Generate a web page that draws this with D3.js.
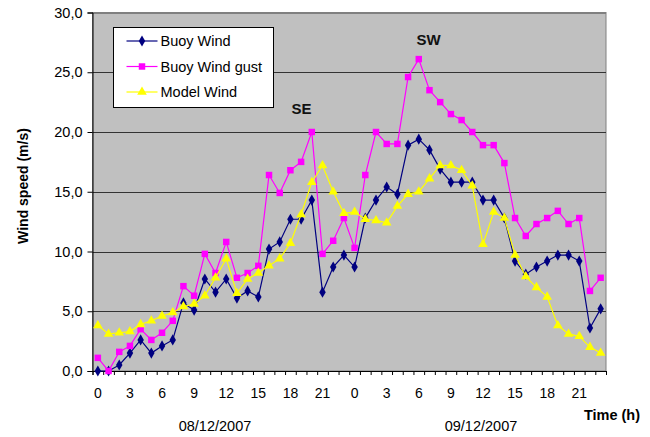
<!DOCTYPE html>
<html>
<head>
<meta charset="utf-8">
<script src="https://cdn.jsdelivr.net/npm/d3@7"></script>
<style>
  body { margin: 0; background: #fff; }
  svg { font-family: Arial, "Liberation Sans", sans-serif; }
</style>
</head>
<body>
<div id="chart"></div>
<script>
// data (two days, hourly)
var hours = [0,1,2,3,4,5,6,7,8,9,10,11,12,13,14,15,16,17,18,19,20,21,22,23,
             0,1,2,3,4,5,6,7,8,9,10,11,12,13,14,15,16,17,18,19,20,21,22,23];
var days = ["08/12/2007", "09/12/2007"];
var seriesNames = ["Buoy Wind", "Buoy Wind gust", "Model Wind"];

var buoyWind = [0.0, 0.0, 0.5, 1.5, 2.6, 1.5, 2.1, 2.6, 5.7, 5.1, 7.7, 6.6,
                7.7, 6.1, 6.7, 6.2, 10.2, 10.8, 12.7, 12.7, 14.3, 6.6, 8.7, 9.7,
                8.7, 12.8, 14.3, 15.4, 14.8, 18.9, 19.4, 18.5, 16.9, 15.8, 15.8, 15.8,
                14.3, 14.3, 12.8, 9.2, 8.1, 8.7, 9.2, 9.7, 9.7, 9.2, 3.6, 5.2];
var buoyGust = [1.1, 0.0, 1.6, 2.1, 3.5, 2.6, 3.2, 4.2, 7.1, 6.3, 9.8, 8.2,
                10.8, 7.8, 8.2, 8.8, 16.4, 14.9, 16.8, 17.5, 20.0, 9.8, 10.9, 12.8,
                10.3, 16.4, 20.0, 19.0, 19.0, 24.6, 26.1, 23.5, 22.5, 21.5, 21.0, 20.0,
                18.9, 18.9, 17.4, 12.8, 11.3, 12.3, 12.8, 13.4, 12.3, 12.8, 6.7, 7.8];
var modelWind = [3.8, 3.1, 3.2, 3.3, 3.9, 4.2, 4.6, 4.9, 5.4, 5.6, 6.3, 7.8,
                 9.4, 6.5, 7.7, 8.2, 8.8, 9.4, 10.7, 13.1, 15.8, 17.2, 15.0, 13.2,
                 13.3, 12.7, 12.6, 12.4, 13.8, 14.8, 15.0, 16.1, 17.2, 17.2, 16.8, 15.5,
                 10.6, 13.3, 12.8, 9.7, 7.9, 7.0, 6.2, 3.8, 3.1, 2.9, 2.0, 1.5];
var yTicks = [0, 5, 10, 15, 20, 25, 30];

var svgWidth = 650;
var svgHeight = 437;

var plot = { left: 92.5, right: 606, top: 12.5, bottom: 371 };
var font = "Arial, 'Liberation Sans', sans-serif";

var svg = d3.select("#chart")
  .append("svg")
  .attr("width", svgWidth)
  .attr("height", svgHeight);

// scales
var xBand = d3.scaleBand()
  .domain(d3.range(hours.length))
  .range([plot.left, plot.right]);

var xEdge = d3.scaleLinear()
  .domain([0, hours.length])
  .range([plot.left, plot.right]);

var yScale = d3.scaleLinear()
  .domain([0, 30])
  .range([plot.bottom, plot.top]);

var xMid = i => xBand(i) + xBand.bandwidth() / 2;

// plot background
svg.append("rect")
  .attr("x", plot.left)
  .attr("y", plot.top)
  .attr("width", plot.right - plot.left)
  .attr("height", plot.bottom - plot.top)
  .attr("fill", "#c0c0c0")
  .attr("stroke", "#808080")
  .attr("stroke-width", 1);

// gridlines
svg.append("g")
  .selectAll("line")
  .data(yTicks.slice(1))
  .enter()
  .append("line")
  .attr("x1", plot.left)
  .attr("x2", plot.right)
  .attr("y1", d => Math.round(yScale(d)) + 0.5)
  .attr("y2", d => Math.round(yScale(d)) + 0.5)
  .attr("stroke", d => d == 30 ? "#808080" : "#333")
  .attr("stroke-width", 1);

// y axis
var yAxis = d3.axisLeft(yScale)
  .tickValues(yTicks)
  .tickSize(5)
  .tickPadding(5)
  .tickFormat(d => d3.format(".1f")(d).replace(".", ","));

svg.append("g")
  .attr("transform", `translate(${plot.left}, 0)`)
  .call(yAxis)
  .call(g => g.select(".domain").attr("stroke", "#000"))
  .call(g => g.selectAll("text").attr("font-size", 14.5).attr("fill", "#000")
    .attr("font-family", font));

// x axis: boundary ticks
svg.append("g")
  .attr("transform", `translate(0, ${plot.bottom})`)
  .call(d3.axisBottom(xEdge).tickValues(d3.range(hours.length + 1)).tickSize(4).tickFormat(""))
  .call(g => g.select(".domain").attr("stroke", "#000"));

// x axis: hour labels every 3 h
svg.append("g")
  .attr("transform", `translate(0, ${plot.bottom})`)
  .call(d3.axisBottom(xBand)
    .tickValues(d3.range(hours.length).filter(i => i % 3 == 0))
    .tickSize(0)
    .tickPadding(17)
    .tickFormat(i => hours[i]))
  .call(g => g.select(".domain").remove())
  .call(g => g.selectAll("text").attr("font-size", 14).attr("fill", "#000")
    .attr("font-family", font));

// date labels
var dayX = [215, 481];
svg.append("g")
  .selectAll("text")
  .data(days)
  .enter()
  .append("text")
  .attr("x", (d, i) => dayX[i])
  .attr("y", 431)
  .attr("text-anchor", "middle")
  .attr("font-size", 14.5)
  .text(d => d);

// axis titles
svg.append("text")
  .attr("x", 640)
  .attr("y", 420)
  .attr("text-anchor", "end")
  .attr("font-size", 14.5)
  .attr("font-weight", "bold")
  .text("Time (h)");

svg.append("text")
  .attr("transform", "rotate(-90)")
  .attr("x", -186)
  .attr("y", 27.5)
  .attr("text-anchor", "middle")
  .attr("font-size", 14)
  .attr("font-weight", "bold")
  .text("Wind speed (m/s)");

// annotations
svg.append("text")
  .attr("x", 301.5).attr("y", 114)
  .attr("text-anchor", "middle")
  .attr("font-size", 15).attr("font-weight", "bold")
  .attr("fill", "#111")
  .text("SE");

svg.append("text")
  .attr("x", 428.5).attr("y", 44.5)
  .attr("text-anchor", "middle")
  .attr("font-size", 15).attr("font-weight", "bold")
  .attr("fill", "#111")
  .text("SW");

// series
var series = [
  { name: seriesNames[0], values: buoyWind, color: "#000080", symbol: d3.symbolDiamond, size: 36 },
  { name: seriesNames[1], values: buoyGust, color: "#ff00ff", symbol: d3.symbolSquare, size: 42 },
  { name: seriesNames[2], values: modelWind, color: "#ffff00", symbol: d3.symbolTriangle, size: 40 }
];

var line = d3.line()
  .x((d, i) => xMid(i))
  .y(d => yScale(d));

series.forEach(function(s) {
  var g = svg.append("g");
  g.append("path")
    .datum(s.values)
    .attr("d", line)
    .attr("fill", "none")
    .attr("stroke", s.color)
    .attr("stroke-width", 1.2);

  g.selectAll("path.mark")
    .data(s.values)
    .enter()
    .append("path")
    .attr("class", "mark")
    .attr("d", d3.symbol().type(s.symbol).size(s.size))
    .attr("transform", (d, i) => `translate(${xMid(i)}, ${yScale(d)})`)
    .attr("fill", s.color);
});

// legend
var legend = svg.append("g")
  .attr("transform", "translate(113.5, 27.5)");

legend.append("rect")
  .attr("width", 160)
  .attr("height", 80)
  .attr("fill", "#fff")
  .attr("stroke", "#000");

var items = legend.selectAll("g.item")
  .data(series)
  .enter()
  .append("g")
  .attr("transform", (d, i) => `translate(0, ${13.5 + i * 25.5})`);

items.append("line")
  .attr("x1", 13).attr("x2", 44)
  .attr("stroke", d => d.color)
  .attr("stroke-width", 1.2);

items.append("path")
  .attr("d", d => d3.symbol().type(d.symbol).size(d.size)())
  .attr("transform", "translate(28.5, 0)")
  .attr("fill", d => d.color);

items.append("text")
  .attr("x", 47)
  .attr("y", 5)
  .attr("font-size", 14.5)
  .text(d => d.name);
</script>
</body>
</html>
